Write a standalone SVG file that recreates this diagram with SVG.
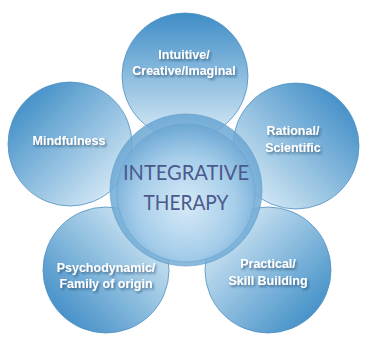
<svg xmlns="http://www.w3.org/2000/svg" width="370" height="340" viewBox="0 0 370 340">
<defs>
<linearGradient id="gTop" x1="0" y1="0" x2="0" y2="1"><stop offset="0" stop-color="#2f84c2"/><stop offset="1" stop-color="#d6eaf6"/></linearGradient>
<linearGradient id="gLeft" x1="0.1" y1="0.1" x2="0.9" y2="0.9"><stop offset="0" stop-color="#2f84c2"/><stop offset="1" stop-color="#d6eaf6"/></linearGradient>
<linearGradient id="gRight" x1="0.9" y1="0.1" x2="0.1" y2="0.9"><stop offset="0" stop-color="#2f84c2"/><stop offset="1" stop-color="#d6eaf6"/></linearGradient>
<linearGradient id="gBL" x1="0.1" y1="0.9" x2="0.9" y2="0.1"><stop offset="0" stop-color="#2f84c2"/><stop offset="1" stop-color="#d6eaf6"/></linearGradient>
<linearGradient id="gBR" x1="0.9" y1="0.9" x2="0.1" y2="0.1"><stop offset="0" stop-color="#2f84c2"/><stop offset="1" stop-color="#d6eaf6"/></linearGradient>
<radialGradient id="gCenter" cx="0.5" cy="0.6" r="0.6"><stop offset="0" stop-color="#dcedf8"/><stop offset="0.6" stop-color="#a9d0ec"/><stop offset="1" stop-color="#6aa6d3"/></radialGradient>
<radialGradient id="gRing" cx="0.5" cy="0.55" r="0.55"><stop offset="0" stop-color="#b1d6ee"/><stop offset="1" stop-color="#67a4d2"/></radialGradient>
<filter id="sh" x="-20%" y="-40%" width="140%" height="180%"><feDropShadow dx="1.5" dy="2" stdDeviation="1.2" flood-color="#1d4468" flood-opacity="0.65"/></filter>
</defs>
<style>
.c{stroke:#3f86bb;stroke-width:0.8;opacity:0.92}
.t{font-family:"Liberation Sans",Arial,sans-serif;font-weight:bold;font-size:12.5px;fill:#ffffff;text-anchor:middle;filter:url(#sh)}
.m{font-family:"Lato","Liberation Sans",sans-serif;font-weight:400;font-size:21px;fill:#4b5a8c;text-anchor:middle}
</style>
<g id="connectors"></g>
<g id="node-top"><circle class="c" cx="185" cy="76" r="63" fill="url(#gTop)"/></g>
<g id="node-left"><circle class="c" cx="70" cy="144" r="62" fill="url(#gLeft)"/></g>
<g id="node-right"><circle class="c" cx="296" cy="146" r="63" fill="url(#gRight)"/></g>
<g id="node-bottomleft"><circle class="c" cx="106" cy="270" r="63" fill="url(#gBL)"/></g>
<g id="node-bottomright"><circle class="c" cx="268" cy="270" r="63" fill="url(#gBR)"/></g>
<g id="node-center">
<circle cx="186" cy="190" r="76" fill="url(#gRing)" stroke="#5d9cc9" stroke-width="0.8" opacity="0.85"/>
<circle cx="186" cy="193" r="69" fill="url(#gCenter)" stroke="#6aa6d2" stroke-width="0.8" opacity="0.85"/>
<text class="m" x="186" y="180" textLength="126" lengthAdjust="spacingAndGlyphs">INTEGRATIVE</text>
<text class="m" x="186" y="210" textLength="85" lengthAdjust="spacingAndGlyphs">THERAPY</text>
</g>
<g id="labels">
<text class="t" x="184" y="59">Intuitive/</text>
<text class="t" x="184" y="75">Creative/Imaginal</text>
<text class="t" x="69" y="145">Mindfulness</text>
<text class="t" x="293" y="135">Rational/</text>
<text class="t" x="293" y="152">Scientific</text>
<text class="t" x="106" y="272">Psychodynamic/</text>
<text class="t" x="106" y="288">Family of origin</text>
<text class="t" x="268" y="268">Practical/</text>
<text class="t" x="268" y="285">Skill Building</text>
</g>
</svg>
